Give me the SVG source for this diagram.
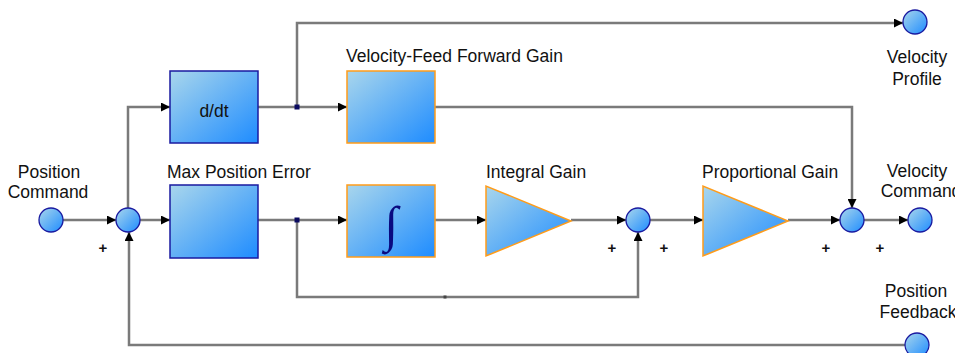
<svg xmlns="http://www.w3.org/2000/svg" width="955" height="353" viewBox="0 0 955 353">
<defs>
<linearGradient id="g" x1="0" y1="0" x2="1" y2="1">
<stop offset="0" stop-color="#a9d6ec"/>
<stop offset="1" stop-color="#1e8cff"/>
</linearGradient>
<marker id="a" viewBox="0 0 10 10" refX="10" refY="5" markerWidth="10" markerHeight="9" markerUnits="userSpaceOnUse" orient="auto">
<path d="M0,0 L10,5 L0,10 z" fill="#000"/>
</marker>
<style>
.ln{fill:none;stroke:#7a7a7a;stroke-width:2.5}
.ar{marker-end:url(#a)}
.bb{fill:url(#g);stroke:#1a1aa0;stroke-width:1.5}
.ob{fill:url(#g);stroke:#ff9c1a;stroke-width:1.5}
.c{fill:url(#g);stroke:#1a1aa0;stroke-width:1.3}
.t{font-family:"Liberation Sans",Arial,sans-serif;font-size:17.5px;fill:#111}
.m{text-anchor:middle}
.p{font-family:"Liberation Sans",Arial,sans-serif;font-size:15px;font-weight:bold;fill:#111;text-anchor:middle}
.d{fill:#0a0a60}
</style>
</defs>
<rect width="955" height="353" fill="#fff"/>
<g id="connectors">
<path class="ln ar" d="M63,220 H116"/>
<path class="ln ar" d="M140,220 H170"/>
<path class="ln ar" d="M128,208 V107 H170"/>
<path class="ln ar" d="M258,107 H347"/>
<path class="ln ar" d="M297,107 V23 H903"/>
<path class="ln ar" d="M435,107 H852 V208"/>
<path class="ln ar" d="M258,220 H347"/>
<path class="ln ar" d="M435,220 H486"/>
<path class="ln ar" d="M571,220 H626"/>
<path class="ln ar" d="M297,220 V297 H638 V232"/>
<path class="ln ar" d="M650,220 H703"/>
<path class="ln ar" d="M788,220 H840"/>
<path class="ln ar" d="M864,220 H908"/>
<path class="ln ar" d="M905,345 H129 V232"/>
<rect class="d" x="294.5" y="104.5" width="5" height="5"/>
<rect class="d" x="294.5" y="217.5" width="5" height="5"/>
<rect x="443.5" y="295.5" width="3" height="3" fill="#444"/>
</g>
<g id="position-command">
<circle class="c" cx="51" cy="220" r="12"/>
<text class="t m" x="49" y="178">Position</text>
<text class="t m" x="48" y="198">Command</text>
</g>
<g id="sum1">
<circle class="c" cx="128" cy="220" r="12"/>
<text class="p" x="103" y="253">+</text>
</g>
<g id="ddt">
<rect class="bb" x="170" y="71" width="88" height="72"/>
<text class="t m" x="214" y="117">d/dt</text>
</g>
<g id="max-position-error">
<rect class="bb" x="170" y="185" width="88" height="73"/>
<text class="t" x="167" y="178">Max Position Error</text>
</g>
<g id="velocity-ff-gain">
<rect class="ob" x="347" y="71" width="88" height="72"/>
<text class="t" x="346" y="62">Velocity-Feed Forward Gain</text>
</g>
<g id="integrator">
<rect class="ob" x="347" y="185" width="88" height="72"/>
<text x="391" y="241" text-anchor="middle" font-family="'Liberation Serif',serif" font-size="50" fill="#0a0a80">∫</text>
</g>
<g id="integral-gain">
<path class="ob" d="M486,186 L486,256 L571,221 z"/>
<text class="t" x="486" y="178">Integral Gain</text>
</g>
<g id="sum2">
<circle class="c" cx="638" cy="220" r="12"/>
<text class="p" x="612" y="253">+</text>
<text class="p" x="664" y="253">+</text>
</g>
<g id="proportional-gain">
<path class="ob" d="M703,186 L703,256 L788,221 z"/>
<text class="t" x="702" y="178">Proportional Gain</text>
</g>
<g id="sum3">
<circle class="c" cx="852" cy="220" r="12"/>
<text class="p" x="826" y="253">+</text>
<text class="p" x="880" y="253">+</text>
</g>
<g id="velocity-command">
<circle class="c" cx="920" cy="220" r="12"/>
<text class="t m" x="917" y="177">Velocity</text>
<text class="t m" x="921" y="197">Command</text>
</g>
<g id="velocity-profile">
<circle class="c" cx="915" cy="22" r="12"/>
<text class="t m" x="917" y="63">Velocity</text>
<text class="t m" x="917" y="85">Profile</text>
</g>
<g id="position-feedback">
<circle class="c" cx="917" cy="345" r="12"/>
<text class="t m" x="916" y="297">Position</text>
<text class="t m" x="918" y="318">Feedback</text>
</g>
</svg>
